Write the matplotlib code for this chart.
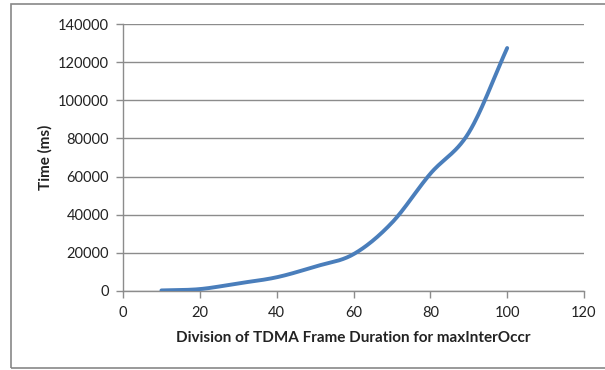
import numpy as np
import matplotlib
matplotlib.use('Agg')
import matplotlib.pyplot as plt
from matplotlib.patches import Rectangle

# valores
divisions = [10, 20, 30, 40, 50, 60, 70, 80, 90, 100]
time_ms = [300, 1000, 4000, 7200, 12800, 19300, 35800, 61500, 83000, 127400]
x_ticks = [0, 20, 40, 60, 80, 100, 120]
y_ticks = [0, 20000, 40000, 60000, 80000, 100000, 120000, 140000]

plt.rcParams['font.family'] = ['Lato', 'DejaVu Sans']


def smooth(xs, ys, n=30):
    # curva suavizada tipo Excel (Catmull-Rom)
    xs = np.asarray(xs, float)
    ys = np.asarray(ys, float)
    px = np.concatenate([[2 * xs[0] - xs[1]], xs, [2 * xs[-1] - xs[-2]]])
    py = np.concatenate([[2 * ys[0] - ys[1]], ys, [2 * ys[-1] - ys[-2]]])
    out_x, out_y = [], []
    t = np.linspace(0, 1, n)
    for i in range(1, len(px) - 2):
        for p, out in ((px, out_x), (py, out_y)):
            p0, p1, p2, p3 = p[i - 1], p[i], p[i + 1], p[i + 2]
            seg = 0.5 * ((2 * p1) + (-p0 + p2) * t
                         + (2 * p0 - 5 * p1 + 4 * p2 - p3) * t ** 2
                         + (-p0 + 3 * p1 - 3 * p2 + p3) * t ** 3)
            out.extend(seg)
    return np.array(out_x), np.array(out_y)


fig = plt.figure(figsize=(6.05, 3.7), dpi=100)
fig.patches.append(Rectangle((11 / 605, 2 / 370), 1.0, 364 / 370, transform=fig.transFigure,
                             fill=False, edgecolor='#888888', linewidth=1.2))
ax = fig.add_axes([123 / 605, 1 - 291 / 370, 461 / 605, 267 / 370])

sx, sy = smooth(divisions, time_ms)
ax.plot(sx, sy, color='#4a7ebb', linewidth=2.8, solid_capstyle='round', zorder=3)

ax.set_xlim(0, 120)
ax.set_ylim(0, 140000)
ax.set_xticks(x_ticks)
ax.set_yticks(y_ticks)
ax.grid(axis='y', color='#8c8c8c', linewidth=1)
ax.set_axisbelow(True)
for s in ['top', 'right']:
    ax.spines[s].set_visible(False)
for s in ['left', 'bottom']:
    ax.spines[s].set_color('#8c8c8c')
    ax.spines[s].set_linewidth(1)
ax.tick_params(colors='#8c8c8c', length=5, width=1, labelcolor='#222222', labelsize=10.5)
ax.tick_params(axis='x', pad=6)
ax.tick_params(axis='y', pad=5)

ax.set_xlabel('Division of TDMA Frame Duration for maxInterOccr', fontsize=11,
              fontweight='bold', color='#222222', labelpad=8)
ax.set_ylabel('Time (ms)', fontsize=11, fontweight='bold', color='#222222', labelpad=4)

fig.savefig('out.png', dpi=100)
